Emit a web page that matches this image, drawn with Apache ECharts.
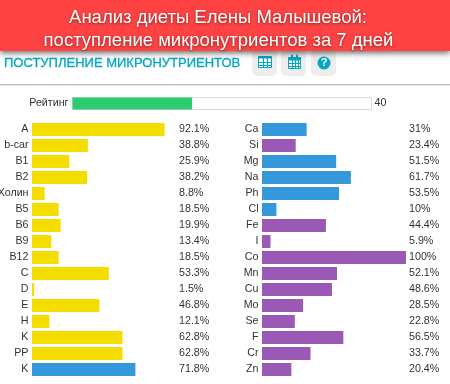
<!DOCTYPE html>
<html><head><meta charset="utf-8">
<style>html,body{margin:0;padding:0;background:#fff}#c{width:450px;height:384px}</style>
<script src="https://cdn.jsdelivr.net/npm/echarts@6/dist/echarts.min.js"></script>
</head><body><div id="c"></div>
<script>
const titleLines = ['Анализ диеты Елены Малышевой:', 'поступление микронутриентов за 7 дней'];
const sectionTitle = 'ПОСТУПЛЕНИЕ МИКРОНУТРИЕНТОВ';
const ratingLabel = 'Рейтинг';
const ratingValue = 40;
const leftNames = ['A','b-car','B1','B2','Холин','B5','B6','B9','B12','C','D','E','H','K','PP','K'];
const leftValues = [92.1,38.8,25.9,38.2,8.8,18.5,19.9,13.4,18.5,53.3,1.5,46.8,12.1,62.8,62.8,71.8];
const leftKinds = ['v','v','v','v','v','v','v','v','v','v','v','v','v','v','v','m'];
const rightNames = ['Ca','Si','Mg','Na','Ph','Cl','Fe','I','Co','Mn','Cu','Mo','Se','F','Cr','Zn'];
const rightValues = [31,23.4,51.5,61.7,53.5,10,44.4,5.9,100,52.1,48.6,28.5,22.8,56.5,33.7,20.4];
const rightKinds = ['m','t','m','m','m','m','t','t','t','t','t','t','t','t','t','t'];
const kindColors = {v:'#f4de00', m:'#3498db', t:'#9b59b6'};
const TEAL = '#00a9c0', TEXT = '#333';
const FONT = '"Liberation Sans", Arial, sans-serif';

const chart = echarts.init(document.getElementById('c'), null, {renderer:'canvas'});
const hidden = {show:false};

function panel(i, names, values, kinds){
  return {
    yAxes: [
      {gridIndex:i, type:'category', inverse:true, data:names, axisLine:hidden, axisTick:hidden, splitLine:hidden,
       axisLabel:{color:TEXT, fontSize:10.7, fontFamily:FONT, margin:3.5, interval:0}},
      {gridIndex:i, type:'category', inverse:true, position:'right', data:values.map(v=>v+'%'), axisLine:hidden, axisTick:hidden, splitLine:hidden,
       axisLabel:{color:TEXT, fontSize:10.7, fontFamily:FONT, margin:3, interval:0, align:'left'}}
    ],
    xAxis: {gridIndex:i, type:'value', min:0, max:100, show:false},
    series: {type:'bar', xAxisIndex:i, yAxisIndex:i*2, barWidth:13, silent:true, animation:false,
      data: values.map((v,k)=>({value:v, itemStyle:{color:kindColors[kinds[k]]}}))}
  };
}
const pL = panel(0,leftNames,leftValues,leftKinds);
const pR = panel(1,rightNames,rightValues,rightKinds);

function btn(x){return {type:'rect',shape:{x:x,y:50,width:25,height:26,r:5},style:{fill:'#eeeeee'},z:5};}
function table(x,y,w,h,cols,rows,top){
  const out=[{type:'rect',shape:{x:x,y:y,width:w,height:h},style:{fill:'#fff',stroke:TEAL,lineWidth:1},z:6},
             {type:'rect',shape:{x:x,y:y,width:w,height:top},style:{fill:TEAL},z:6}];
  for(let c=1;c<cols;c++){const X=Math.round(x+c*w/cols)+.5;out.push({type:'line',shape:{x1:X,y1:y,x2:X,y2:y+h},style:{stroke:TEAL,lineWidth:1},z:6});}
  for(let r=1;r<rows;r++){const Y=Math.round(y+top+r*(h-top)/rows)+.5;out.push({type:'line',shape:{x1:x,y1:Y,x2:x+w,y2:Y},style:{stroke:TEAL,lineWidth:1},z:6});}
  return out;
}
const graphics = [
  {type:'rect',shape:{x:0,y:84,width:450,height:1.5},style:{fill:'#c4c4c4'},z:4},
  btn(252),btn(281),btn(311),
  ...table(258.5,56.5,13,11,3,3,2),
  ...table(288.5,57.5,12,11,4,3,3),
  {type:'rect',shape:{x:291,y:54.5,width:2,height:4,r:1},style:{fill:TEAL},z:7},
  {type:'rect',shape:{x:296,y:54.5,width:2,height:4,r:1},style:{fill:TEAL},z:7},
  {type:'circle',shape:{cx:324,cy:63,r:6.5},style:{fill:TEAL},z:6},
  {type:'text',style:{x:324,y:63,text:'?',fill:'#fff',font:'bold 11px '+FONT,align:'center',verticalAlign:'middle'},z:7},
  {type:'text',style:{x:4,y:63.5,text:sectionTitle,fill:TEAL,stroke:TEAL,lineWidth:0.3,font:'13px '+FONT,align:'left',verticalAlign:'middle'},z:6},
  {type:'rect',shape:{x:0,y:0,width:450,height:51},style:{fill:'#ff4343',shadowBlur:6,shadowColor:'rgba(0,0,0,0.6)',shadowOffsetY:2},z:10},
  {type:'text',style:{x:218,y:17.5,text:titleLines[0],fill:'#fff',font:'18.5px '+FONT,align:'center',verticalAlign:'middle',textShadowBlur:3,textShadowColor:'rgba(0,0,0,0.5)',textShadowOffsetY:1},z:11},
  {type:'text',style:{x:218.5,y:40.5,text:titleLines[1],fill:'#fff',font:'18.5px '+FONT,align:'center',verticalAlign:'middle',textShadowBlur:3,textShadowColor:'rgba(0,0,0,0.5)',textShadowOffsetY:1},z:11}
];

chart.setOption({
  animation:false,
  backgroundColor:'#fff',
  grid:[
    {left:32,top:121.5,width:144,height:256,outerBoundsMode:'none'},
    {left:262,top:121.5,width:144,height:256,outerBoundsMode:'none'},
    {left:72.5,top:97.5,width:299,height:12,show:true,borderColor:'#dcdcdc',borderWidth:1,backgroundColor:'#fff',outerBoundsMode:'none'}
  ],
  xAxis:[pL.xAxis,pR.xAxis,{gridIndex:2,type:'value',min:0,max:100,show:false}],
  yAxis:[...pL.yAxes,...pR.yAxes,
    {gridIndex:2,type:'category',data:[ratingLabel],axisLine:hidden,axisTick:hidden,splitLine:hidden,
     axisLabel:{color:TEXT,fontSize:10.7,fontFamily:FONT,margin:4}},
    {gridIndex:2,type:'category',position:'right',data:[String(ratingValue)],axisLine:hidden,axisTick:hidden,splitLine:hidden,
     axisLabel:{color:TEXT,fontSize:10.7,fontFamily:FONT,margin:3,align:'left'}}
  ],
  series:[pL.series,pR.series,
    {type:'bar',xAxisIndex:2,yAxisIndex:4,barWidth:12,silent:true,data:[ratingValue],itemStyle:{color:'#2ecc71'}}],
  graphic:{elements:graphics}
});
</script></body></html>
